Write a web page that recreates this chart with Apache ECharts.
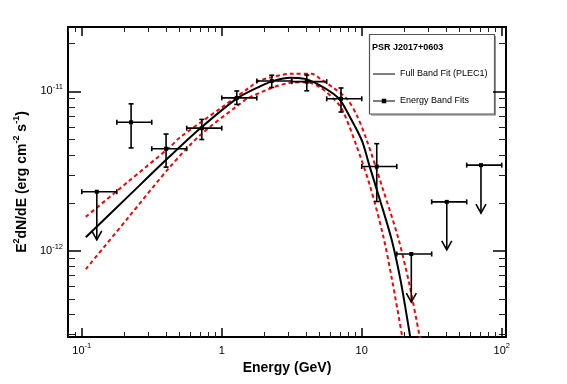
<!DOCTYPE html>
<html><head><meta charset="utf-8">
<script src="https://cdn.jsdelivr.net/npm/echarts@6/dist/echarts.min.js"></script>
<style>html,body{margin:0;padding:0;background:#fff}#c{width:567px;height:384px}</style>
</head><body><div id="c"></div>
<script>
// ---- Energy band fits (points) ----
const binEdges = [0.1, 0.178, 0.316, 0.562, 1, 1.78, 3.16, 5.62, 10, 17.8, 31.6, 56.2, 100];
const ptE   = [0.128, 0.225, 0.40, 0.72, 1.28, 2.275, 4.05, 7.11, 12.8, 22.6, 40.5, 71.1];
const ptF   = [2.35e-12, 6.4e-12, 4.37e-12, 5.88e-12, 9.1e-12, 1.16e-11, 1.15e-11, 8.98e-12, 3.38e-12, 9.57e-13, 2.03e-12, 3.45e-12];
const ptFlo = [null, 4.42e-12, 3.35e-12, 4.99e-12, 8.28e-12, 1.058e-11, 1.008e-11, 7.42e-12, 2.04e-12, null, null, null];
const ptFhi = [null, 8.35e-12, 5.4e-12, 6.67e-12, 1.005e-11, 1.262e-11, 1.265e-11, 1.05e-11, 4.7e-12, null, null, null];
const isUL  = [1, 0, 0, 0, 0, 0, 0, 0, 0, 1, 1, 1];
const ulArrowFactor = 0.5;

// ---- Full band fit (PLEC1) curve ----
const fitE = [0.1068, 0.2136, 0.4273, 0.6998, 1.28, 1.877, 2.403, 3.075, 3.936, 4.771, 6.27, 7.114, 8.25, 10.0, 11.37, 13.51, 16.38, 19.09, 22.13, 22.87];
const fitF = [1.218e-12, 2.19e-12, 3.93e-12, 5.85e-12, 9.0e-12, 1.074e-11, 1.172e-11, 1.218e-11, 1.197e-11, 1.117e-11, 9.65e-12, 8.66e-12, 6.88e-12, 4.94e-12, 3.40e-12, 2.08e-12, 1.17e-12, 6.31e-13, 2.94e-13, 2.48e-13];

// ---- Error band (red dashed) ----
const bandUpE = [0.1068, 0.2136, 0.4273, 0.5036, 0.972, 1.593, 1.877, 3.246, 4.395, 5.036, 6.27, 7.816, 9.21, 10.86, 14.08, 18.25, 21.77, 25.87, 26.52];
const bandUpF = [1.637e-12, 2.71e-12, 4.49e-12, 5.15e-12, 7.79e-12, 1.064e-11, 1.172e-11, 1.29e-11, 1.29e-11, 1.2e-11, 1.052e-11, 9.0e-12, 7.08e-12, 4.94e-12, 2.48e-12, 1.2e-12, 6.31e-13, 2.94e-13, 2.58e-13];
const bandLoE = [0.1068, 0.2136, 0.4273, 0.6998, 1.28, 1.593, 3.075, 4.046, 5.036, 6.27, 7.197, 9.08, 11.46, 14.27, 16.46, 19.41, 19.89];
const bandLoF = [7.69e-13, 1.61e-12, 3.37e-12, 5.31e-12, 8.06e-12, 9.21e-12, 1.13e-11, 1.14e-11, 1.059e-11, 9.0e-12, 7.79e-12, 4.67e-12, 2.55e-12, 1.23e-12, 6.59e-13, 2.94e-13, 2.55e-13];

// ---- Axes ----
const xMin = 0.0797, xMax = 107.3;
const yMin = 2.89e-13, yMax = 2.53e-11;
const xMajor = [0.1, 1, 10, 100];
const xMinor = [0.08, 0.09, 0.2, 0.3, 0.4, 0.5, 0.6, 0.7, 0.8, 0.9, 2, 3, 4, 5, 6, 7, 8, 9, 20, 30, 40, 50, 60, 70, 80, 90];
const yMajor = [1e-12, 1e-11];
const yMinor = [3e-13, 4e-13, 5e-13, 6e-13, 7e-13, 8e-13, 9e-13, 2e-12, 3e-12, 4e-12, 5e-12, 6e-12, 7e-12, 8e-12, 9e-12, 2e-11];

const FONT = "'Liberation Sans', Arial, Helvetica, sans-serif";
const zip = (a, b) => a.map((v, i) => [v, b[i]]);

function powLabel(v) {
  const e = Math.round(Math.log10(v));
  if (e === 0) return '{b|1}';
  if (e === 1) return '{b|10}';
  return '{b|10}{s|' + e + '}';
}
const labelRich = {
  b: { fontSize: 11, lineHeight: 17, fontFamily: FONT, color: '#000' },
  s: { fontSize: 7.5, lineHeight: 8, verticalAlign: 'top', fontFamily: FONT, color: '#000' }
};

function xAx(pos, major, showLabel, name) {
  const o = {
    type: 'log', logBase: 10, position: pos, min: xMin, max: xMax, gridIndex: 0,
    splitLine: { show: false },
    axisLine: { show: major, onZero: false, lineStyle: { color: '#000', width: 2 } },
    axisTick: { show: true, inside: true, length: major ? 9 : 5,
      customValues: major ? xMajor : xMinor,
      lineStyle: { color: major ? '#000' : '#222', width: major ? 1.5 : 1 } },
    axisLabel: { show: showLabel, customValues: xMajor, formatter: powLabel, margin: 5, rich: labelRich }
  };
  if (name) {
    o.name = name; o.nameLocation = 'middle'; o.nameGap = 23;
    o.nameTextStyle = { fontSize: 14, fontWeight: 'bold', fontFamily: FONT, color: '#000' };
  }
  return o;
}
function yAx(pos, major, showLabel, name) {
  const o = {
    type: 'log', logBase: 10, position: pos, min: yMin, max: yMax, gridIndex: 0,
    splitLine: { show: false },
    axisLine: { show: major, onZero: false, lineStyle: { color: '#000', width: 2 } },
    axisTick: { show: true, inside: true, length: major ? 13 : 7,
      customValues: major ? yMajor : yMinor,
      lineStyle: { color: major ? '#000' : '#222', width: major ? 1.5 : 1 } },
    axisLabel: { show: showLabel, customValues: yMajor, formatter: powLabel, margin: 5, rich: labelRich }
  };
  if (name) {
    o.name = name; o.nameLocation = 'middle'; o.nameGap = 33;
    o.nameTextStyle = {
      fontSize: 14, fontWeight: 'bold', fontFamily: FONT, color: '#000',
      rich: {
        m: { fontSize: 14, fontWeight: 'bold', fontFamily: FONT, color: '#000', lineHeight: 20 },
        u: { fontSize: 9, fontWeight: 'bold', fontFamily: FONT, color: '#000', verticalAlign: 'top', lineHeight: 10 }
      }
    };
  }
  return o;
}

const pointData = ptE.map((e, i) => [
  e, ptF[i], binEdges[i], binEdges[i + 1],
  ptFlo[i] == null ? ptF[i] : ptFlo[i],
  ptFhi[i] == null ? ptF[i] : ptFhi[i],
  isUL[i]
]);

function renderItem(params, api) {
  const E = api.value(0), F = api.value(1);
  const elo = api.value(2), ehi = api.value(3), flo = api.value(4), fhi = api.value(5), ul = api.value(6);
  const c = api.coord([E, F]);
  const a = api.coord([elo, F]), b = api.coord([ehi, F]);
  const st = { stroke: '#000', lineWidth: 1.6, fill: null };
  const cap = 2.5;
  const ch = [
    { type: 'line', shape: { x1: a[0], y1: c[1], x2: b[0], y2: c[1] }, style: st },
    { type: 'line', shape: { x1: a[0], y1: c[1] - cap, x2: a[0], y2: c[1] + cap }, style: st },
    { type: 'line', shape: { x1: b[0], y1: c[1] - cap, x2: b[0], y2: c[1] + cap }, style: st }
  ];
  if (ul) {
    const t = api.coord([E, F * ulArrowFactor]);
    ch.push({ type: 'line', shape: { x1: c[0], y1: c[1], x2: c[0], y2: t[1] }, style: st });
    ch.push({ type: 'polyline', shape: { points: [[t[0] - 5, t[1] - 9], [t[0], t[1]], [t[0] + 5, t[1] - 9]] }, style: st });
  } else {
    const lo = api.coord([E, flo]), hi = api.coord([E, fhi]);
    ch.push({ type: 'line', shape: { x1: c[0], y1: lo[1], x2: c[0], y2: hi[1] }, style: st });
    ch.push({ type: 'line', shape: { x1: c[0] - cap, y1: lo[1], x2: c[0] + cap, y2: lo[1] }, style: st });
    ch.push({ type: 'line', shape: { x1: c[0] - cap, y1: hi[1], x2: c[0] + cap, y2: hi[1] }, style: st });
  }
  ch.push({ type: 'rect', shape: { x: c[0] - 2, y: c[1] - 2, width: 4, height: 4 }, style: { fill: '#000' } });
  return { type: 'group', children: ch };
}

const chart = echarts.init(document.getElementById('c'), null, { renderer: 'canvas' });
chart.setOption({
  animation: false,
  backgroundColor: '#fff',
  grid: { left: 68, right: 61, top: 27, bottom: 47, containLabel: false },
  xAxis: [
    xAx('bottom', true, true, 'Energy (GeV)'),
    xAx('bottom', false, false),
    xAx('top', true, false),
    xAx('top', false, false)
  ],
  yAxis: [
    yAx('left', true, true, '{m|E}{u|2}{m|dN/dE (erg cm}{u|-2}{m| s}{u|-1}{m|)}'),
    yAx('left', false, false),
    yAx('right', true, false),
    yAx('right', false, false)
  ],
  legend: {
    z: 100, padding: 0,
    orient: 'vertical', left: 373, top: 69, itemWidth: 22, itemHeight: 5, itemGap: 17,
    textStyle: { fontSize: 9, fontFamily: FONT, color: '#000', lineHeight: 10 },
    itemStyle: { borderWidth: 0 },
    selectedMode: false,
    data: [
      { name: 'Full Band Fit (PLEC1)', icon: 'path://M0,0h0.01v0.01h-0.01z M0,2h22v1h-22z M21.99,4.99h0.01v0.01h-0.01z' },
      { name: 'Energy Band Fits', icon: 'path://M0,0h0.01v0.01h-0.01z M0,2h22v1.1h-22z M8.75,0.3h4.5v4.5h-4.5z M21.99,4.99h0.01v0.01h-0.01z' }
    ]
  },
  graphic: [
    { type: 'rect', z: -10, shape: { x: 369.5, y: 34.5, width: 125, height: 79.5 }, style: { fill: '#fff', stroke: '#555', lineWidth: 1.2 } },
    { type: 'line', z: -9, shape: { x1: 495.2, y1: 36, x2: 495.2, y2: 114.8 }, style: { stroke: '#777', lineWidth: 1.2 } },
    { type: 'line', z: -9, shape: { x1: 371, y1: 114.8, x2: 495.8, y2: 114.8 }, style: { stroke: '#777', lineWidth: 1.2 } },
    { type: 'text', x: 372, y: 48, style: { text: 'PSR J2017+0603', font: "bold 9px " + FONT, fill: '#000', verticalAlign: 'middle' } }
  ],
  series: [
    { name: 'Band upper', type: 'line', data: zip(bandUpE, bandUpF), symbol: 'none', smooth: 0.3,
      lineStyle: { color: '#ff0000', width: 2, type: [4, 3] }, itemStyle: { color: '#ff0000' }, z: 3 },
    { name: 'Band lower', type: 'line', data: zip(bandLoE, bandLoF), symbol: 'none', smooth: 0.3,
      lineStyle: { color: '#ff0000', width: 2, type: [4, 3] }, itemStyle: { color: '#ff0000' }, z: 3 },
    { name: 'Full Band Fit (PLEC1)', type: 'line', data: zip(fitE, fitF), symbol: 'none', smooth: 0.3,
      lineStyle: { color: '#000', width: 2 }, itemStyle: { color: '#000' }, z: 4 },
    { name: 'Energy Band Fits', type: 'custom', data: pointData, renderItem: renderItem,
      encode: { x: 0, y: 1 }, itemStyle: { color: '#000' }, z: 5 }
  ]
});
</script>
</body></html>
